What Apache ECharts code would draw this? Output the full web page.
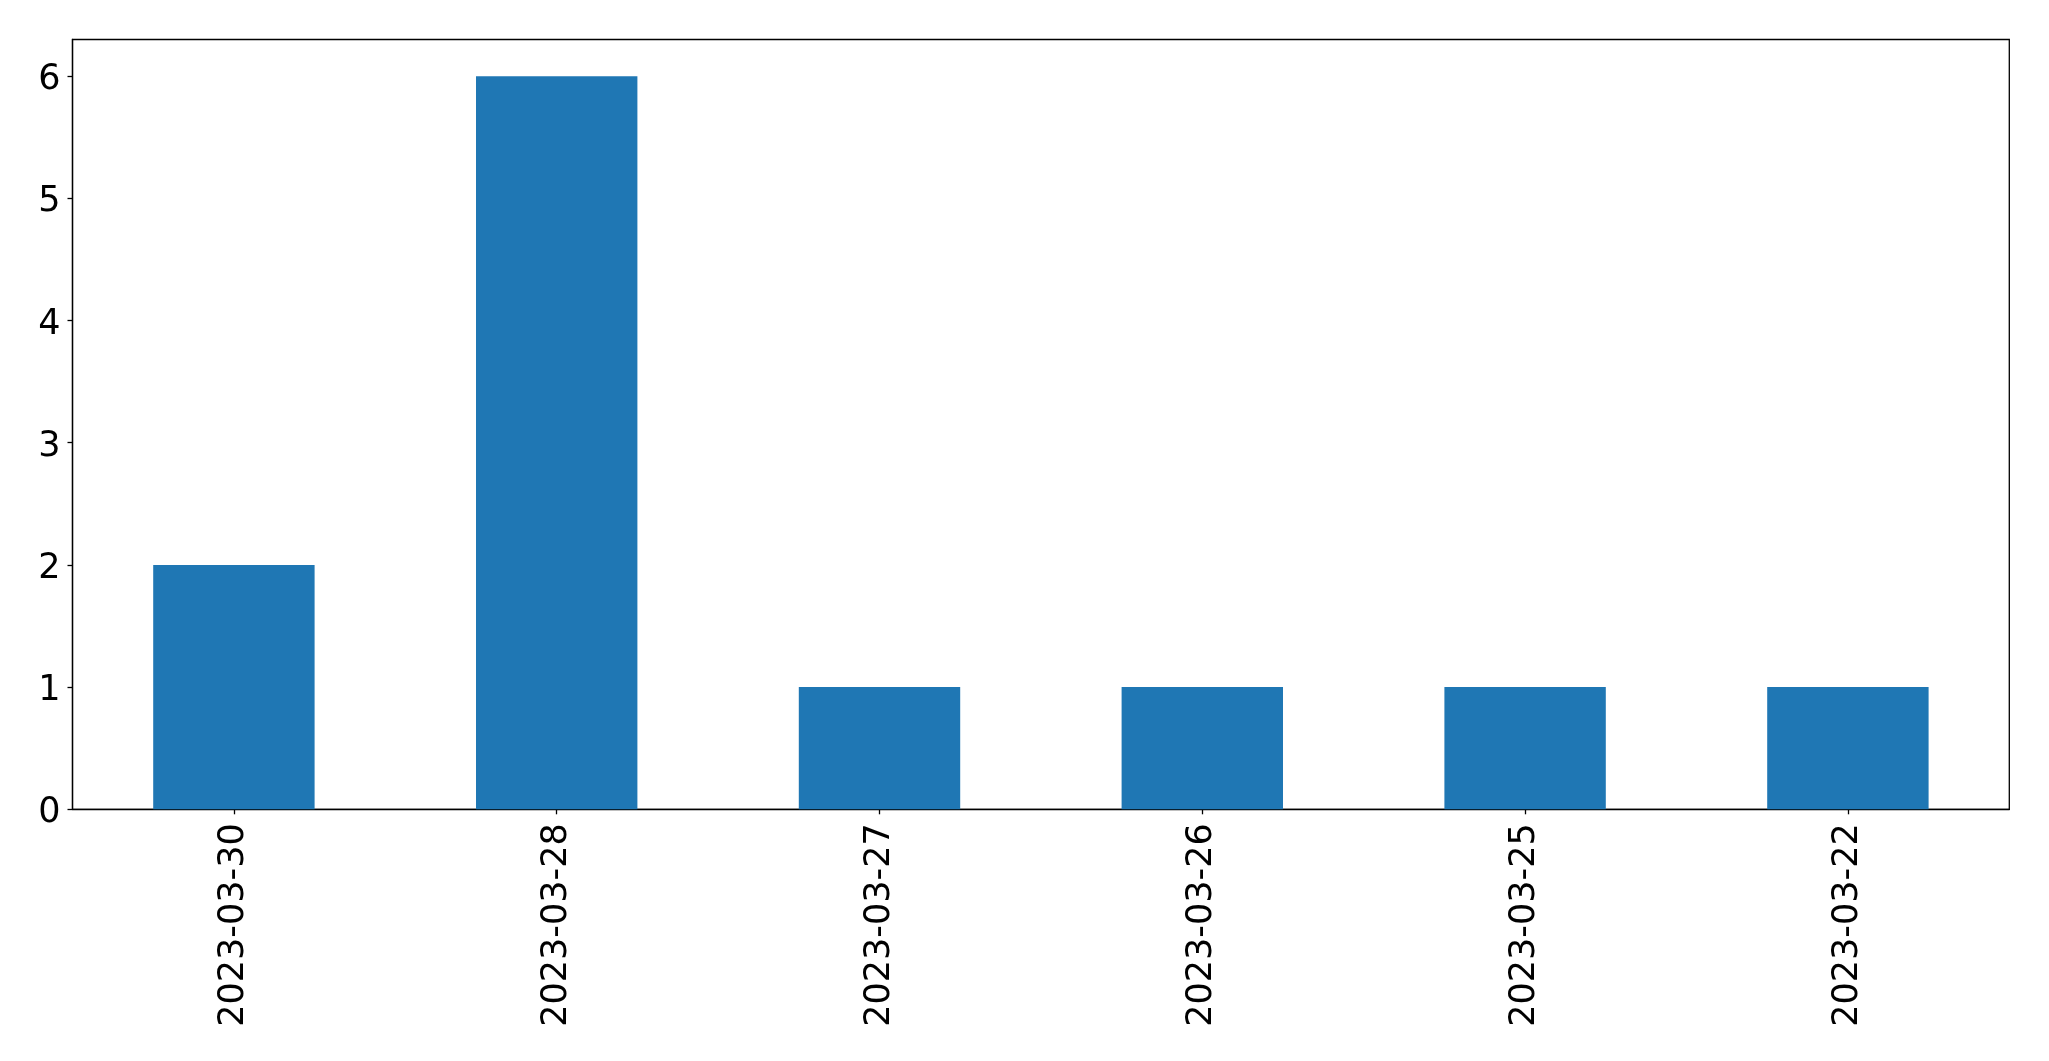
<!DOCTYPE html>
<html>
<head>
<meta charset="utf-8">
<script src="https://cdn.jsdelivr.net/npm/echarts@6/dist/echarts.min.js"></script>
<style>
html,body{margin:0;padding:0;background:#fff;}
#chart{width:2049px;height:1061px;}
</style>
</head>
<body>
<div id="chart"></div>
<script>
const categories = ['2023-03-30','2023-03-28','2023-03-27','2023-03-26','2023-03-25','2023-03-22'];
const counts = [2, 6, 1, 1, 1, 1];
const yTicks = [0, 1, 2, 3, 4, 5, 6];

const chart = echarts.init(document.getElementById('chart'), null, {renderer:'canvas'});
const font = 'DejaVu Sans';
chart.setOption({
  animation: false,
  backgroundColor: '#ffffff',
  grid: {
    left: 72.5, right: 39.7, top: 39.5, bottom: 251.7,
    show: true, borderColor: '#000', borderWidth: 1.3, backgroundColor: 'transparent'
  },
  xAxis: {
    type: 'category',
    data: categories,
    boundaryGap: true,
    axisLine: {show: true, lineStyle: {color: '#000', width: 1.3}},
    axisTick: {show: true, alignWithLabel: true, length: 5, lineStyle: {color: '#000', width: 1.3}},
    axisLabel: {rotate: 90, fontSize: 35, fontFamily: font, color: '#000', margin: 14, interval: 0},
    splitLine: {show: false}
  },
  yAxis: {
    type: 'value',
    min: 0, max: 6.3, interval: 1,
    axisLine: {show: true, lineStyle: {color: '#000', width: 1.3}},
    axisTick: {show: true, length: 5, lineStyle: {color: '#000', width: 1.3}, customValues: yTicks},
    axisLabel: {
      fontSize: 35, fontFamily: font, color: '#000', margin: 12, customValues: yTicks,
      formatter: function (v) { return '{d|' + v + '}'; },
      rich: {d: {fontSize: 35, fontFamily: font, color: '#000', padding: [8, 0, 0, 0]}}
    },
    splitLine: {show: false}
  },
  series: [{
    type: 'bar',
    data: counts,
    barWidth: '50%',
    itemStyle: {color: '#1f77b4'}
  }]
});
</script>
</body>
</html>
